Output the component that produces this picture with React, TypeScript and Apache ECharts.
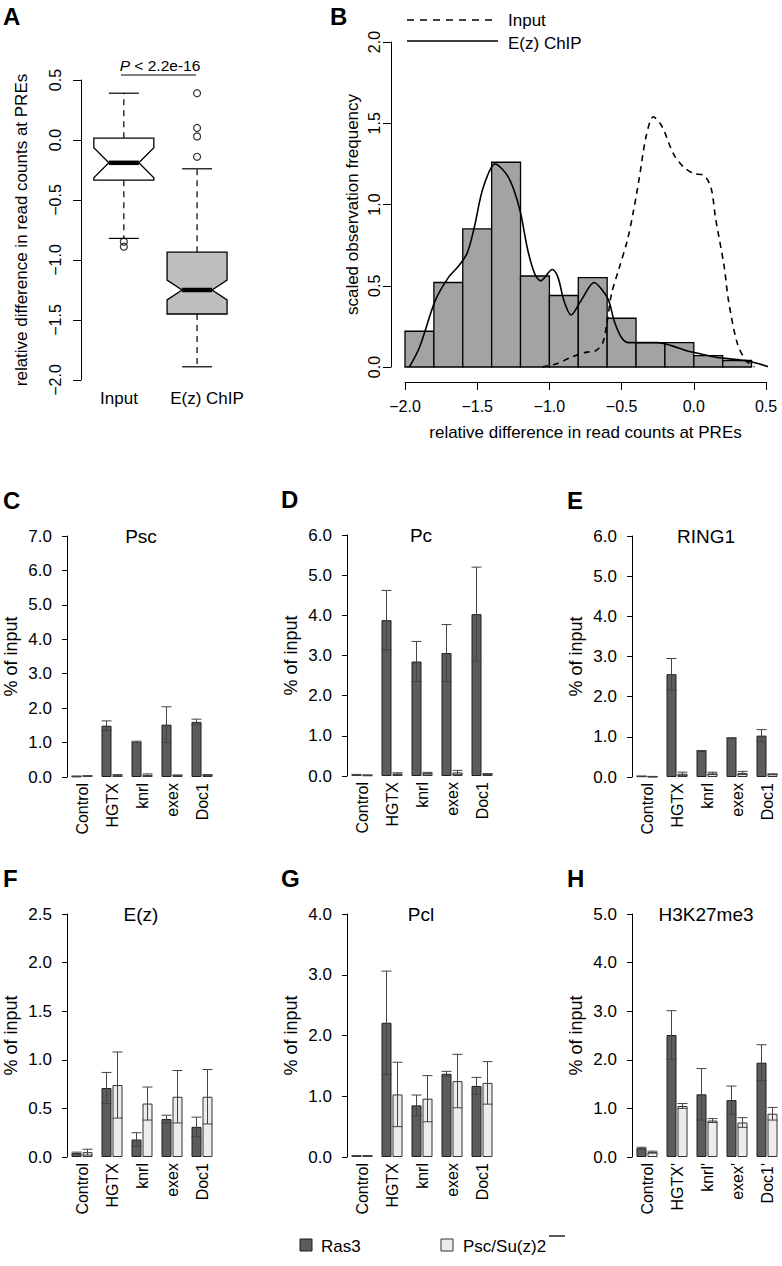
import React, { useEffect, useRef } from "react";
import * as echarts from "echarts";

const FONT = "'Liberation Sans', Arial, Helvetica, sans-serif";

// ---------- Panel A: notched box plots ----------
const boxGroups = ["Input", "E(z) ChIP"];
const boxLowerWhisker = [-0.82, -1.89];
const boxQ1 = [-0.335, -1.45];
const boxMedian = [-0.19, -1.25];
const boxQ3 = [0.015, -0.935];
const boxUpperWhisker = [0.39, -0.24];
const boxNotchHalf = [0.125, 0.083];
const inputOutliers = [-0.847, -0.889];
const chipOutliers = [0.39, 0.1, 0.03, -0.14];
const pValueText = "< 2.2e-16";

// ---------- Panel B: histogram + densities ----------
const histBinStarts = [-2.0, -1.8, -1.6, -1.4, -1.2, -1.0, -0.8, -0.6, -0.4, -0.2, 0.0, 0.2];
const histBinWidth = 0.2;
const histHeights = [0.22, 0.52, 0.85, 1.26, 0.56, 0.44, 0.55, 0.3, 0.15, 0.15, 0.07, 0.04];
const chipDensityX = [-1.97, -1.9, -1.79, -1.7, -1.63, -1.57, -1.52, -1.46, -1.375, -1.3, -1.25, -1.2, -1.15, -1.1, -1.06, -0.98, -0.94, -0.9, -0.85, -0.78, -0.69, -0.64, -0.59, -0.55, -0.5, -0.45, -0.35, -0.25, -0.15, -0.05, 0.05, 0.15, 0.25, 0.35, 0.45, 0.52];
const chipDensityY = [0.0, 0.12, 0.41, 0.55, 0.62, 0.7, 0.86, 1.1, 1.25, 1.19, 1.1, 0.95, 0.72, 0.57, 0.53, 0.6, 0.55, 0.41, 0.32, 0.41, 0.52, 0.48, 0.41, 0.28, 0.18, 0.15, 0.15, 0.15, 0.13, 0.1, 0.08, 0.06, 0.05, 0.04, 0.02, 0.0];
const inputDensityX = [-1.05, -0.95, -0.85, -0.75, -0.68, -0.63, -0.6, -0.57, -0.52, -0.46, -0.42, -0.38, -0.33, -0.28, -0.22, -0.14, -0.07, 0.0, 0.07, 0.12, 0.15, 0.21, 0.24, 0.3, 0.36, 0.42];
const inputDensityY = [0.0, 0.02, 0.06, 0.09, 0.1, 0.15, 0.28, 0.45, 0.6, 0.78, 0.95, 1.15, 1.42, 1.54, 1.48, 1.31, 1.23, 1.19, 1.18, 1.1, 0.92, 0.62, 0.41, 0.15, 0.04, 0.0];

// ---------- Panels C-H: bar charts ----------
const barCategories = ["Control", "HGTX", "knrl", "exex", "Doc1"];
const h3Categories = ["Control", "HGTX'", "knrl'", "exex'", "Doc1'"];

const pscRas3 = [0.02, 1.49, 1.02, 1.52, 1.6];
const pscRas3Sd = [0.01, 0.14, 0.02, 0.52, 0.08];
const pscMut = [0.03, 0.05, 0.06, 0.05, 0.06];
const pscMutSd = [0.01, 0.02, 0.03, 0.01, 0.01];

const pcRas3 = [0.03, 3.88, 2.85, 3.06, 4.03];
const pcRas3Sd = [0.01, 0.74, 0.5, 0.71, 1.17];
const pcMut = [0.02, 0.06, 0.07, 0.09, 0.05];
const pcMutSd = [0.01, 0.02, 0.02, 0.05, 0.01];

const ringRas3 = [0.02, 2.56, 0.65, 0.97, 1.03];
const ringRas3Sd = [0.005, 0.39, 0.01, 0.01, 0.15];
const ringMut = [0.01, 0.08, 0.09, 0.1, 0.07];
const ringMutSd = [0.005, 0.04, 0.03, 0.04, 0.01];

const ezRas3 = [0.04, 0.71, 0.18, 0.39, 0.31];
const ezRas3Sd = [0.01, 0.16, 0.07, 0.04, 0.1];
const ezMut = [0.05, 0.74, 0.55, 0.62, 0.62];
const ezMutSd = [0.03, 0.34, 0.17, 0.27, 0.28];

const pclRas3 = [0.02, 2.21, 0.85, 1.37, 1.17];
const pclRas3Sd = [0.005, 0.85, 0.17, 0.04, 0.14];
const pclMut = [0.02, 1.03, 0.96, 1.25, 1.22];
const pclMutSd = [0.005, 0.53, 0.38, 0.44, 0.35];

const h3Ras3 = [0.18, 2.51, 1.29, 1.17, 1.94];
const h3Ras3Sd = [0.02, 0.5, 0.53, 0.29, 0.37];
const h3Mut = [0.1, 1.05, 0.75, 0.71, 0.89];
const h3MutSd = [0.02, 0.05, 0.04, 0.1, 0.13];

const legendNames = ["Ras3", "Psc/Su(z)2"];

const signedFmt = (v: number) => (v < -1e-9 ? "\u2212" : "") + Math.abs(v).toFixed(1);

function buildOption() {
  const grids: any[] = [];
  const xAxes: any[] = [];
  const yAxes: any[] = [];
  const series: any[] = [];
  const graphics: any[] = [];

  const txt = (text: string, x: number, y: number, size: number, extra: any = {}) => ({
    type: "text",
    x,
    y,
    silent: true,
    style: {
      text,
      fontSize: size,
      fontFamily: FONT,
      fill: "#000",
      align: "center",
      verticalAlign: "middle",
      ...extra,
    },
  });
  const line = (x1: number, y1: number, x2: number, y2: number, extra: any = {}) => ({
    type: "line",
    silent: true,
    shape: { x1, y1, x2, y2 },
    style: { stroke: "#000", lineWidth: 1.2, ...extra },
  });
  const axisLine = { show: true, onZero: false, lineStyle: { color: "#000", width: 1 } };
  const noSplit = { show: false };

  // ---------- A ----------
  grids.push({ left: 81, top: 80, width: 160, height: 300 });
  xAxes.push({ gridIndex: 0, type: "value", min: 0.415, max: 2.6, show: false, axisLine: { onZero: false } });
  yAxes.push({
    gridIndex: 0,
    type: "value",
    min: -2,
    max: 0.5,
    interval: 0.5,
    axisLine,
    axisTick: { show: true, length: 8, lineStyle: { color: "#000" } },
    axisLabel: { rotate: 90, margin: 18, fontSize: 16, color: "#000", fontFamily: FONT, formatter: signedFmt },
    splitLine: noSplit,
    name: "relative difference in read counts at PREs",
    nameLocation: "middle",
    nameGap: 51,
    nameTextStyle: { fontSize: 17, color: "#000", fontFamily: FONT },
  });
  const boxFills = ["#ffffff", "#bebebe"];
  series.push({
    type: "custom",
    xAxisIndex: 0,
    yAxisIndex: 0,
    encode: { x: 0, y: [1, 2, 3, 4, 5] },
    data: boxGroups.map((g, i) => ({
      name: g,
      value: [i + 1, boxLowerWhisker[i], boxQ1[i], boxMedian[i], boxQ3[i], boxUpperWhisker[i], boxNotchHalf[i]],
      itemStyle: { color: boxFills[i] },
    })),
    renderItem: (params: any, api: any) => {
      const x = api.value(0);
      const lw = api.value(1), q1 = api.value(2), med = api.value(3), q3 = api.value(4), hw = api.value(5), nh = api.value(6);
      const P = (v: number, dx: number) => {
        const p = api.coord([x, v]);
        return [p[0] + dx, p[1]];
      };
      const W = 30, N = 15, C = 15;
      const fill = api.visual("color");
      const seg = (a: number[], b: number[], style: any) => ({
        type: "line",
        shape: { x1: a[0], y1: a[1], x2: b[0], y2: b[1] },
        style: { stroke: "#000", lineWidth: 1.2, ...style },
      });
      return {
        type: "group",
        children: [
          seg(P(q3, 0), P(hw, 0), { lineDash: [6, 5] }),
          seg(P(q1, 0), P(lw, 0), { lineDash: [6, 5] }),
          seg(P(hw, -C), P(hw, C), {}),
          seg(P(lw, -C), P(lw, C), {}),
          {
            type: "polygon",
            shape: {
              points: [
                P(q3, -W), P(q3, W), P(med + nh, W), P(med, N), P(med - nh, W),
                P(q1, W), P(q1, -W), P(med - nh, -W), P(med, -N), P(med + nh, -W),
              ],
            },
            style: { fill, stroke: "#000", lineWidth: 1.3 },
          },
          seg(P(med, -N), P(med, N), { lineWidth: 4.5 }),
        ],
      };
    },
  });
  series.push({
    type: "scatter",
    xAxisIndex: 0,
    yAxisIndex: 0,
    symbol: "circle",
    symbolSize: 7,
    itemStyle: { color: "rgba(255,255,255,0)", borderColor: "#000", borderWidth: 1.2 },
    data: [...inputOutliers.map((v) => [1, v]), ...chipOutliers.map((v) => [2, v])],
  });
  graphics.push(txt("A", 3, 16, 24, { fontWeight: "bold", align: "left" }));
  graphics.push(txt(boxGroups[0], 119, 398, 17));
  graphics.push(txt(boxGroups[1], 207, 398, 17));
  graphics.push({
    type: "text",
    x: 160,
    y: 65,
    silent: true,
    style: {
      text: "{i|P} " + pValueText,
      fontSize: 15.5,
      fontFamily: FONT,
      fill: "#000",
      align: "center",
      verticalAlign: "middle",
      rich: { i: { fontStyle: "italic", fontSize: 15.5, fontFamily: FONT } },
    },
  });
  graphics.push(line(121, 75, 196, 75, { lineWidth: 1 }));

  // ---------- B ----------
  grids.push({ left: 405, top: 42, width: 361, height: 325 });
  xAxes.push({
    gridIndex: 1,
    type: "value",
    min: -2,
    max: 0.5,
    interval: 0.5,
    offset: 15,
    axisLine,
    axisTick: { show: true, length: 8, lineStyle: { color: "#000" } },
    axisLabel: { margin: 16, fontSize: 16, color: "#000", fontFamily: FONT, formatter: signedFmt },
    splitLine: noSplit,
    name: "relative difference in read counts at PREs",
    nameLocation: "middle",
    nameGap: 42,
    nameTextStyle: { fontSize: 17, color: "#000", fontFamily: FONT },
  });
  yAxes.push({
    gridIndex: 1,
    type: "value",
    min: 0,
    max: 2,
    interval: 0.5,
    offset: 14,
    axisLine,
    axisTick: { show: true, length: 8, lineStyle: { color: "#000" } },
    axisLabel: { rotate: 90, margin: 9, fontSize: 16, color: "#000", fontFamily: FONT, formatter: signedFmt },
    splitLine: noSplit,
    name: "scaled observation frequency",
    nameLocation: "middle",
    nameGap: 30,
    nameTextStyle: { fontSize: 17, color: "#000", fontFamily: FONT },
  });
  series.push({
    type: "custom",
    xAxisIndex: 1,
    yAxisIndex: 1,
    encode: { x: [0, 1], y: 2 },
    data: histBinStarts.map((s, i) => [s, s + histBinWidth, histHeights[i]]),
    renderItem: (params: any, api: any) => {
      const a = api.coord([api.value(0), api.value(2)]);
      const b = api.coord([api.value(1), 0]);
      return {
        type: "rect",
        shape: { x: a[0], y: a[1], width: b[0] - a[0], height: b[1] - a[1] },
        style: { fill: "#a3a3a3", stroke: "#000", lineWidth: 1.3 },
      };
    },
  });
  series.push({
    type: "line",
    xAxisIndex: 1,
    yAxisIndex: 1,
    smooth: 0.3,
    showSymbol: false,
    lineStyle: { color: "#000", width: 1.6, type: [6, 5] },
    data: inputDensityX.map((x, i) => [x, inputDensityY[i]]),
  });
  series.push({
    type: "line",
    xAxisIndex: 1,
    yAxisIndex: 1,
    smooth: 0.3,
    showSymbol: false,
    lineStyle: { color: "#000", width: 1.6 },
    data: chipDensityX.map((x, i) => [x, chipDensityY[i]]),
  });
  graphics.push(txt("B", 330, 16, 24, { fontWeight: "bold", align: "left" }));
  graphics.push(line(407, 20, 498, 20, { lineWidth: 1.5, lineDash: [7, 6] }));
  graphics.push(line(407, 41, 498, 41, { lineWidth: 1.5 }));
  graphics.push(txt("Input", 508, 20, 17, { align: "left" }));
  graphics.push(txt("E(z) ChIP", 508, 43, 17, { align: "left" }));

  // ---------- C-H ----------
  const panels = [
    { letter: "C", title: "Psc", cats: barCategories, ras: pscRas3, rasSd: pscRas3Sd, mut: pscMut, mutSd: pscMutSd, max: 7, step: 1, left: 67, top: 536, height: 241, lx: 3 },
    { letter: "D", title: "Pc", cats: barCategories, ras: pcRas3, rasSd: pcRas3Sd, mut: pcMut, mutSd: pcMutSd, max: 6, step: 1, left: 347, top: 535, height: 241, lx: 281 },
    { letter: "E", title: "RING1", cats: barCategories, ras: ringRas3, rasSd: ringRas3Sd, mut: ringMut, mutSd: ringMutSd, max: 6, step: 1, left: 632, top: 536, height: 241, lx: 567 },
    { letter: "F", title: "E(z)", cats: barCategories, ras: ezRas3, rasSd: ezRas3Sd, mut: ezMut, mutSd: ezMutSd, max: 2.5, step: 0.5, left: 67, top: 914, height: 243, lx: 3 },
    { letter: "G", title: "Pcl", cats: barCategories, ras: pclRas3, rasSd: pclRas3Sd, mut: pclMut, mutSd: pclMutSd, max: 4, step: 1, left: 347, top: 914, height: 243, lx: 281 },
    { letter: "H", title: "H3K27me3", cats: h3Categories, ras: h3Ras3, rasSd: h3Ras3Sd, mut: h3Mut, mutSd: h3MutSd, max: 5, step: 1, left: 632, top: 914, height: 243, lx: 567 },
  ];

  panels.forEach((p, k) => {
    const gi = k + 2;
    grids.push({ left: p.left, top: p.top, width: 150, height: p.height });
    xAxes.push({
      gridIndex: gi,
      type: "category",
      data: p.cats,
      axisLine: { show: false, onZero: false },
      axisTick: { show: false },
      axisLabel: { rotate: 90, interval: 0, margin: 6, fontSize: 16, color: "#000", fontFamily: FONT },
      splitLine: noSplit,
    });
    yAxes.push({
      gridIndex: gi,
      type: "value",
      min: 0,
      max: p.max,
      interval: p.step,
      axisLine,
      axisTick: { show: true, length: 5, lineStyle: { color: "#000" } },
      axisLabel: { margin: 15, fontSize: 17, color: "#000", fontFamily: FONT, formatter: (v: number) => v.toFixed(1) },
      splitLine: noSplit,
      name: "% of input",
      nameLocation: "middle",
      nameGap: 47,
      nameTextStyle: { fontSize: 18, color: "#000", fontFamily: FONT },
    });
    series.push({
      type: "bar",
      name: legendNames[0],
      xAxisIndex: gi,
      yAxisIndex: gi,
      barWidth: 10,
      barGap: "10%",
      itemStyle: { color: "#5c5c5c", borderColor: "#1e1e1e", borderWidth: 1 },
      data: p.ras,
    });
    series.push({
      type: "bar",
      name: legendNames[1],
      xAxisIndex: gi,
      yAxisIndex: gi,
      barWidth: 10,
      barGap: "10%",
      itemStyle: { color: "#ececec", borderColor: "#333", borderWidth: 1 },
      data: p.mut,
    });
    series.push({
      type: "custom",
      xAxisIndex: gi,
      yAxisIndex: gi,
      z: 5,
      encode: { x: 0, y: 1 },
      data: [
        ...p.ras.map((v, i) => [i, v, p.rasSd[i], -1]),
        ...p.mut.map((v, i) => [i, v, p.mutSd[i], 1]),
      ],
      renderItem: (params: any, api: any) => {
        const idx = api.value(0), mean = api.value(1), sd = api.value(2), side = api.value(3);
        const top = api.coord([idx, mean + sd]);
        const bot = api.coord([idx, Math.max(0, mean - sd)]);
        const x = top[0] + side * 5.5;
        const h = 5;
        const st = { stroke: "#444", lineWidth: 1 };
        return {
          type: "group",
          children: [
            { type: "line", shape: { x1: x, y1: top[1], x2: x, y2: bot[1] }, style: st },
            { type: "line", shape: { x1: x - h, y1: top[1], x2: x + h, y2: top[1] }, style: st },
            { type: "line", shape: { x1: x - h, y1: bot[1], x2: x + h, y2: bot[1] }, style: st },
          ],
        };
      },
    });
    graphics.push(txt(p.letter, p.lx, p.top - 36, 24, { fontWeight: "bold", align: "left" }));
    graphics.push(txt(p.title, p.left + 74, p.top, 19));
  });

  // ---------- bottom legend ----------
  graphics.push({
    type: "rect",
    silent: true,
    shape: { x: 300, y: 1239, width: 12, height: 12 },
    style: { fill: "#5c5c5c", stroke: "#1e1e1e", lineWidth: 1 },
  });
  graphics.push(txt(legendNames[0], 321, 1246, 17, { align: "left" }));
  graphics.push({
    type: "rect",
    silent: true,
    shape: { x: 441, y: 1239, width: 12, height: 12 },
    style: { fill: "#ececec", stroke: "#333", lineWidth: 1 },
  });
  graphics.push(txt(legendNames[1], 463, 1246, 17, { align: "left" }));
  graphics.push(line(549, 1236, 565, 1236, { lineWidth: 1.3 }));

  return {
    animation: false,
    backgroundColor: "#ffffff",
    textStyle: { fontFamily: FONT },
    grid: grids,
    xAxis: xAxes,
    yAxis: yAxes,
    series,
    graphic: graphics,
  };
}

export default function App() {
  const ref = useRef<HTMLDivElement>(null);
  useEffect(() => {
    const chart = echarts.init(ref.current as HTMLDivElement, null, { renderer: "svg" });
    chart.setOption(buildOption() as any);
    return () => chart.dispose();
  }, []);
  return (
    <div
      ref={ref}
      style={{ position: "absolute", left: 0, top: 0, width: 782, height: 1266, background: "#fff" }}
    />
  );
}
